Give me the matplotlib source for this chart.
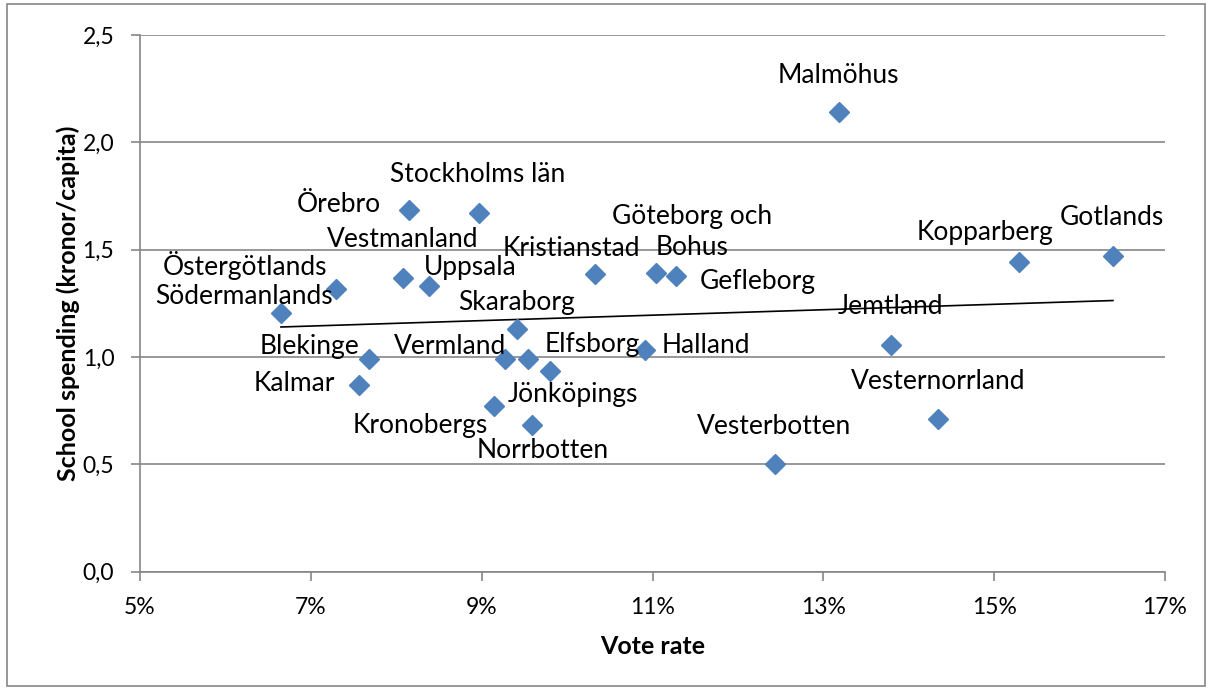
import numpy as np
import matplotlib
matplotlib.use("Agg")
import matplotlib.pyplot as plt
from matplotlib.ticker import FuncFormatter, FixedLocator, MultipleLocator
from matplotlib.patches import Rectangle

# Counties, vote rate (share) and school spending (kronor/capita)
counties = ["Södermanlands", "Östergötlands", "Kalmar", "Blekinge", "Vestmanland",
            "Örebro", "Uppsala", "Stockholms län", "Kronobergs", "Vermland",
            "Skaraborg", "Elfsborg", "Norrbotten", "Jönköpings", "Kristianstad",
            "Halland", "Göteborg och\nBohus", "Gefleborg", "Vesterbotten", "Malmöhus",
            "Jemtland", "Vesternorrland", "Kopparberg", "Gotlands"]
vote_rate = [0.0665, 0.0730, 0.0756, 0.0768, 0.0808,
             0.0815, 0.0838, 0.0897, 0.0914, 0.0927,
             0.0941, 0.0954, 0.0959, 0.0980, 0.1033,
             0.1091, 0.1104, 0.1128, 0.1243, 0.1318,
             0.1379, 0.1434, 0.1529, 0.1639]
spending = [1.207, 1.319, 0.871, 0.992, 1.370,
            1.687, 1.333, 1.673, 0.773, 0.992,
            1.132, 0.992, 0.684, 0.936, 1.389,
            1.034, 1.393, 1.379, 0.502, 2.139,
            1.057, 0.712, 1.444, 1.472]
x_ticks = [0.05, 0.07, 0.09, 0.11, 0.13, 0.15, 0.17]

# label placement: offset of label centre from the point, in pixels
label_offsets = [(-37, 16), (-91, 23), (-64, 1), (-59, 12), (0, 38),
                 (-70, 5), (42, 18), (-1, 38), (-73, -20), (-55, 12),
                 (0, 26), (64, 14), (11, -26), (23, -24), (-24, 25),
                 (61, 4), (36, 41), (81, -6), (-1, 37), (0, 37),
                 (0, 38), (0, 37), (-34, 29), (-1, 38)]

plt.rcParams['font.family'] = ['Lato', 'DejaVu Sans']
grey = '#868686'

fig = plt.figure(figsize=(12.13, 6.90), dpi=100)
ax = fig.add_axes([140/1213, 1 - 571.7/690, 1025/1213, (571.7 - 35)/690])

x = np.array(vote_rate)
y = np.array(spending)

# linear trend line
k, m = np.polyfit(x, y, 1)
xt = np.array([x.min(), x.max()])
ax.plot(xt, k * xt + m, color='black', lw=1.2, zorder=3)

ax.plot(x, y, linestyle='none', marker='D', markersize=10, color='#4F81BD',
        markeredgecolor='#4F81BD', zorder=4)

for name, xi, yi, off in zip(counties, x, y, label_offsets):
    ax.annotate(name, (xi, yi), xytext=off, textcoords='offset pixels',
                ha='center', va='center', fontsize=19, color='black',
                linespacing=1.3, zorder=5)

ax.set_xlim(0.05, 0.17)
ax.set_ylim(0, 2.5)
ax.xaxis.set_major_locator(FixedLocator(x_ticks))
ax.yaxis.set_major_locator(MultipleLocator(0.5))
ax.xaxis.set_major_formatter(FuncFormatter(lambda v, p: f"{v*100:.0f}%"))
ax.yaxis.set_major_formatter(FuncFormatter(lambda v, p: f"{v:.1f}".replace('.', ',')))

ax.grid(axis='y', color=grey, lw=1.2)
ax.set_axisbelow(True)
for s in ['top', 'right']:
    ax.spines[s].set_visible(False)
for s in ['left', 'bottom']:
    ax.spines[s].set_color(grey)
    ax.spines[s].set_linewidth(1.2)
ax.tick_params(axis='both', colors=grey, length=6.5, width=1.2, labelcolor='black',
               labelsize=16.5, direction='out')
ax.tick_params(axis='x', pad=12)
ax.tick_params(axis='y', pad=12)

ax.set_xlabel('Vote rate', fontsize=18, fontweight='bold', labelpad=12)
ax.set_ylabel('School spending (kronor/capita)', fontsize=18, fontweight='bold', labelpad=2)

# chart area border
fig.patches.append(Rectangle((7/1213, 4/690), 1198/1213, 682/690, transform=fig.transFigure,
                             fill=False, edgecolor=grey, lw=1.2))

fig.savefig('out.png', dpi=100)
